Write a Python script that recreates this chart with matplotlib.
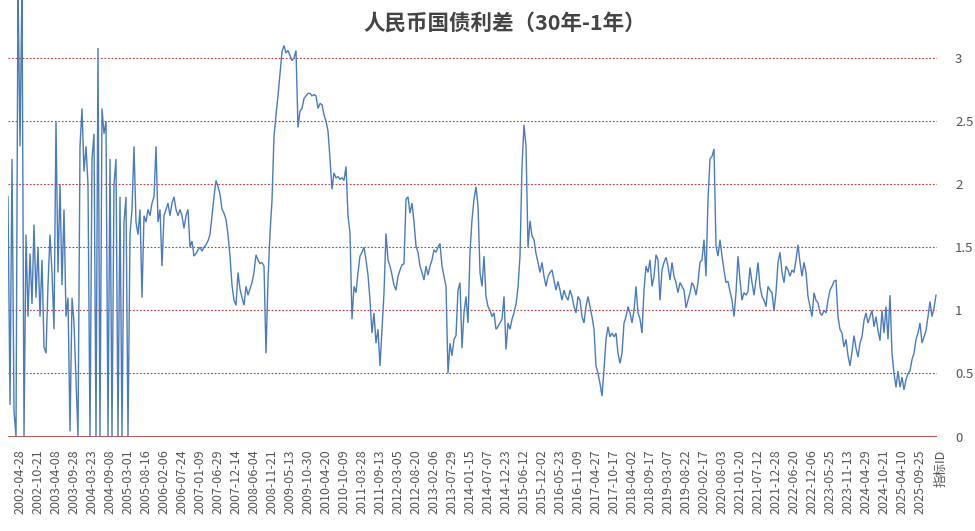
import matplotlib
matplotlib.use("Agg")
import matplotlib.pyplot as plt
import numpy as np

plt.rcParams['font.family'] = ['Noto Sans CJK SC', 'DejaVu Sans']

title = "人民币国债利差（30年-1年）"
axis_name = "指标ID"

spread = [
    1.9, 0.25, 2.2, 0.2, 0.0, 3.6, 2.3, 3.6, 0.0, 1.6,
    0.95, 1.45, 1.05, 1.68, 1.1, 1.5, 0.95, 1.4, 0.71, 0.66,
    1.2, 1.6, 1.3, 0.85, 2.5, 1.3, 2.0, 1.2, 1.8, 0.95,
    1.1, 0.04, 1.1, 0.9, 0.45, 0.0, 2.3, 2.6, 2.1, 2.3,
    2.0, 0.0, 2.2, 2.4, 0.0, 3.08, 0.0, 2.6, 2.4, 2.5,
    0.0, 2.2, 0.0, 2.0, 2.2, 0.0, 1.9, 0.0, 1.7, 1.9,
    0.0, 1.6, 1.8, 2.3, 1.7, 1.6, 1.8, 1.1, 1.75, 1.7,
    1.8, 1.75, 1.85, 1.9, 2.3, 1.7, 1.8, 1.35, 1.75, 1.8,
    1.85, 1.75, 1.85, 1.9, 1.8, 1.75, 1.8, 1.75, 1.65, 1.75,
    1.8, 1.5, 1.55, 1.43, 1.45, 1.48, 1.5, 1.47, 1.5, 1.52,
    1.55, 1.6, 1.75, 1.9, 2.03, 1.98, 1.92, 1.8, 1.77, 1.72,
    1.6, 1.43, 1.2, 1.08, 1.04, 1.3, 1.17, 1.1, 1.04, 1.19,
    1.12, 1.17, 1.22, 1.3, 1.44, 1.4, 1.37, 1.38, 1.35, 0.66,
    1.24, 1.61, 1.87, 2.38, 2.55, 2.7, 2.88, 3.05, 3.1, 3.04,
    3.06, 3.02, 2.98, 3.0, 3.06, 2.45, 2.58, 2.6, 2.68, 2.7,
    2.72, 2.72, 2.7, 2.71, 2.7, 2.6, 2.64, 2.63, 2.55, 2.5,
    2.42, 2.2, 1.96, 2.09, 2.05, 2.06, 2.04, 2.05, 2.03, 2.14,
    1.75, 1.61, 0.93, 1.19, 1.14, 1.3, 1.43, 1.46, 1.5, 1.4,
    1.28, 1.08, 0.82, 0.98, 0.74, 0.85, 0.56, 0.85, 1.14, 1.61,
    1.4, 1.35, 1.28, 1.2, 1.16, 1.27, 1.32, 1.36, 1.37, 1.88,
    1.9, 1.77, 1.85, 1.7, 1.51, 1.46, 1.35, 1.3, 1.24, 1.35,
    1.28, 1.35, 1.4, 1.48, 1.46, 1.5, 1.53, 1.35, 1.27, 1.19,
    0.5, 0.74, 0.64, 0.77, 0.8, 1.16, 1.22, 0.7, 0.98, 1.11,
    0.9, 1.46, 1.72, 1.88, 1.98, 1.83, 1.3, 1.19, 1.43, 1.11,
    1.03, 1.0, 0.95, 0.98, 0.85, 0.87, 0.9, 0.93, 1.11, 0.69,
    0.9, 0.85, 0.93, 0.98, 1.05, 1.18, 1.43, 2.14, 2.47, 2.3,
    1.5, 1.71, 1.59, 1.56, 1.45, 1.38, 1.3, 1.38, 1.27, 1.19,
    1.27, 1.3, 1.32, 1.24, 1.16, 1.23, 1.16, 1.08, 1.16, 1.11,
    1.08, 1.16, 1.11, 1.03, 0.98, 1.11, 1.08, 0.95, 0.9, 1.03,
    1.11, 1.03, 0.95, 0.85, 0.56, 0.5, 0.42, 0.32, 0.53, 0.77,
    0.87, 0.79, 0.82, 0.79, 0.82, 0.66, 0.58, 0.66, 0.9, 0.95,
    1.03, 0.98, 0.9, 1.0, 1.19, 0.98, 0.93, 0.82, 1.16, 1.35,
    1.3, 1.4, 1.19, 1.27, 1.44, 1.4, 1.08, 1.32, 1.38, 1.42,
    1.35, 1.24, 1.38, 1.27, 1.22, 1.14, 1.22, 1.19, 1.16, 1.02,
    1.08, 1.14, 1.22, 1.19, 1.12, 1.22, 1.38, 1.4, 1.56, 1.27,
    1.88, 2.2, 2.22, 2.28, 1.51, 1.43, 1.56, 1.43, 1.32, 1.22,
    1.23, 1.15, 1.08, 0.95, 1.14, 1.43, 1.24, 1.08, 1.14, 1.12,
    1.15, 1.34, 1.22, 1.12, 1.24, 1.38, 1.19, 1.11, 1.08, 1.03,
    1.19, 1.16, 1.14, 1.0, 1.14, 1.38, 1.46, 1.3, 1.22, 1.35,
    1.32, 1.27, 1.32, 1.3, 1.4, 1.52, 1.38, 1.27, 1.38, 1.3,
    1.11, 1.03, 0.95, 1.14, 1.08, 1.06, 0.98, 0.96, 1.0, 0.98,
    1.08, 1.16, 1.19, 1.23, 1.24, 0.95, 0.85, 0.82, 0.71, 0.77,
    0.64, 0.56, 0.67, 0.8, 0.7, 0.63, 0.74, 0.79, 0.92, 0.98,
    0.9, 0.95, 1.0, 0.87, 0.95, 0.84, 0.76, 1.0, 0.82, 1.03,
    0.77, 1.12, 0.66, 0.5, 0.39, 0.52, 0.39, 0.47, 0.37, 0.45,
    0.5, 0.52, 0.61, 0.66, 0.77, 0.82, 0.9, 0.74, 0.79, 0.84,
    0.95, 1.07, 0.95, 1.02, 1.12,
]

tick_labels = [
    "2002-04-28", "2002-10-21", "2003-04-08", "2003-09-28", "2004-03-23",
    "2004-09-08", "2005-03-01", "2005-08-16", "2006-02-06", "2006-07-24",
    "2007-01-09", "2007-06-29", "2007-12-14", "2008-06-04", "2008-11-21",
    "2009-05-13", "2009-10-30", "2010-04-20", "2010-10-09", "2011-03-28",
    "2011-09-13", "2012-03-05", "2012-08-20", "2013-02-06", "2013-07-29",
    "2014-01-15", "2014-07-07", "2014-12-23", "2015-06-12", "2015-12-02",
    "2016-05-23", "2016-11-09", "2017-04-27", "2017-10-17", "2018-04-02",
    "2018-09-17", "2019-03-07", "2019-08-22", "2020-02-17", "2020-08-03",
    "2021-01-20", "2021-07-12", "2021-12-28", "2022-06-20", "2022-12-06",
    "2023-05-25", "2023-11-13", "2024-04-29", "2024-10-21", "2025-04-10",
    "2025-09-25",
]
y_ticks = [0, 0.5, 1, 1.5, 2, 2.5, 3]

first_label_idx = 6
label_step = 9

W, H = 975, 531
fig = plt.figure(figsize=(W / 100, H / 100), dpi=100)
ax = fig.add_axes([8 / W, (H - 436.5) / H, (937 - 8) / W, 436.5 / H])

x = np.arange(len(spread))
ax.plot(x, spread, color="#4a7cbb", lw=1.0, zorder=3, solid_joinstyle="miter")

ax.set_xlim(0, len(spread) - 0.5)
ax.set_ylim(0, 3.46)

for v in y_ticks[1:]:
    ax.axhline(v, color="#b5403a", lw=0.8, ls=(0, (1.6, 1.6)), zorder=1)
ax.axhline(0, color="#b8574f", lw=1.4, zorder=2)

for s in ax.spines.values():
    s.set_visible(False)

ax.yaxis.tick_right()
ax.set_yticks(y_ticks)
ax.set_yticklabels([f"{v:g}" for v in y_ticks])
ax.tick_params(axis="y", length=0, pad=13, labelsize=9.5, labelcolor="#555555")

pos = [first_label_idx + label_step * k for k in range(len(tick_labels))]
ax.set_xticks(pos)
ax.set_xticklabels(tick_labels, rotation=90)
ax.tick_params(axis="x", length=0, pad=9, labelsize=9, labelcolor="#555555")

ax.text(first_label_idx + label_step * len(tick_labels) + 1.5, -0.03, axis_name,
        rotation=90, ha="center", va="top", fontsize=9, color="#555555",
        transform=ax.get_xaxis_transform(), clip_on=False)

fig.text(505 / W, 1 - 23 / H, title, ha="center", va="center",
         fontsize=15.5, fontweight="bold", color="#444444")

fig.savefig("out.png", dpi=100)
